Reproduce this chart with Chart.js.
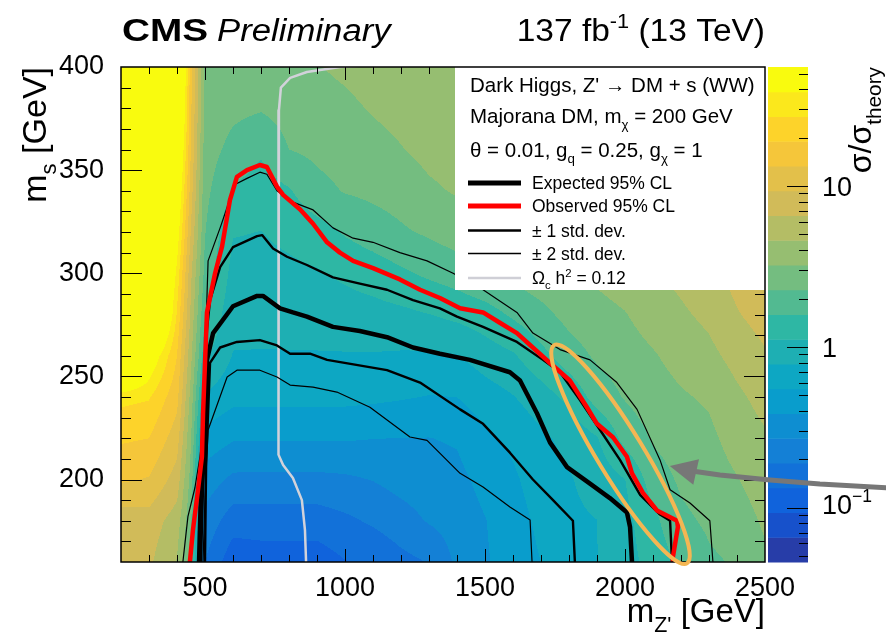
<!DOCTYPE html>
<html>
<head>
<meta charset="utf-8">
<script src="https://cdn.jsdelivr.net/npm/chart.js@4.4.1/dist/chart.umd.min.js"></script>
<style>
  html, body { margin: 0; padding: 0; background: #fff; }
  #wrap { width: 886px; height: 634px; }
</style>
</head>
<body>
<div id="wrap"><canvas id="limits" width="886" height="634"></canvas></div>
<script>
// grid of the observed limit, sigma / sigma_theory
const gridMZ = [200, 300, 400, 450, 500, 600, 700, 800, 900, 1000, 1100, 1200, 1300,
                1400, 1500, 1600, 1700, 1800, 1900, 2000, 2100, 2200, 2300, 2400, 2500];
const gridMS = [400, 380, 360, 340, 320, 300, 280, 260, 240, 220, 200, 180, 160];
const sigmaRatio = [
  [300, 300, 200, 15, 3.0, 2.9, 2.8, 2.96, 3.18, 3.45, 3.77, 4.08, 4.2, 4.45, 5.0, 5.2, 5.6, 6.0, 6.8, 7.4, 8.0, 10, 11.5, 14, 17],
  [300, 300, 150, 14, 2.9, 2.48, 2.34, 2.6, 2.81, 3.0, 3.33, 3.6, 3.85, 4.1, 4.4, 4.6, 5.0, 5.3, 6.0, 6.6, 7.2, 8.8, 10.2, 12.5, 15],
  [300, 300, 100, 13, 2.7, 2.02, 1.68, 2.27, 2.46, 2.64, 2.88, 3.18, 3.56, 3.78, 3.9, 4.1, 4.4, 4.67, 5.3, 5.8, 6.4, 7.8, 9.08, 11, 13.5],
  [300, 300, 70, 11, 2.5, 1.55, 1.34, 1.54, 2.03, 2.32, 2.46, 2.64, 3.05, 3.34, 3.5, 3.7, 3.9, 4.1, 4.7, 5.1, 5.6, 6.9, 8.0, 9.8, 12],
  [300, 300, 50, 9, 2.3, 1.14, 1.11, 1.22, 1.37, 1.65, 1.9, 2.16, 2.39, 2.68, 3.18, 3.3, 3.4, 3.7, 4.1, 4.51, 5.0, 5.8, 6.9, 8.5, 10.5],
  [300, 300, 35, 7, 2.0, 0.99, 0.99, 1.03, 1.08, 1.19, 1.31, 1.5, 1.7, 1.9, 2.24, 2.5, 2.86, 3.24, 3.45, 3.8, 4.51, 5.05, 6.0, 7.4, 8.9],
  [300, 300, 26, 6, 1.6, 0.88, 0.875, 0.89, 0.91, 0.954, 0.985, 1.03, 1.11, 1.22, 1.36, 1.68, 2.03, 2.55, 2.9, 3.18, 3.78, 4.36, 5.0, 6.4, 7.6],
  [300, 60, 19, 5.0, 1.2, 0.77, 0.766, 0.766, 0.766, 0.766, 0.766, 0.752, 0.745, 0.77, 0.93, 1.07, 1.43, 1.92, 2.4, 2.75, 3.13, 3.67, 4.2, 5.2, 6.3],
  [30, 28, 15, 4.0, 0.75, 0.61, 0.606, 0.606, 0.606, 0.606, 0.59, 0.566, 0.541, 0.551, 0.66, 0.77, 0.95, 1.22, 1.84, 2.33, 2.74, 3.1, 3.4, 4.3, 5.2],
  [20, 19, 11, 3.3, 0.48, 0.4, 0.398, 0.398, 0.398, 0.398, 0.388, 0.384, 0.383, 0.4, 0.51, 0.59, 0.73, 0.87, 1.09, 1.78, 2.36, 2.74, 2.98, 3.74, 4.4],
  [14, 13, 8, 2.8, 0.33, 0.25, 0.248, 0.248, 0.248, 0.255, 0.274, 0.307, 0.327, 0.35, 0.43, 0.52, 0.65, 0.76, 0.9, 1.11, 1.88, 2.4, 2.7, 3.18, 3.95],
  [7.6, 8, 5.5, 2.4, 0.24, 0.157, 0.159, 0.159, 0.159, 0.177, 0.2, 0.234, 0.279, 0.315, 0.38, 0.48, 0.59, 0.73, 0.78, 1.0, 1.45, 2.1, 2.4, 2.67, 3.43],
  [6.8, 7, 4.5, 2.0, 0.19, 0.105, 0.11, 0.11, 0.11, 0.131, 0.14, 0.17, 0.193, 0.29, 0.37, 0.46, 0.55, 0.7, 0.78, 0.95, 1.3, 1.7, 2.15, 2.35, 3.0]
];

// 95% CL contours, [m_Z', m_s] in GeV
const observed = [[446,160],[457,175.5],[475,195],[489,211],[493,232],[500,256.5],[507,281],[536,300],[561,313],
  [589,335.5],[614,346.7],[650,350],[696,352.5],[721,351.5],[757,342],[779,338],[839,331],[886,324],[936,315],
  [982,310],[1029,306],[1100,302.5],[1196,297],[1268,292],[1339,288],[1411,283],[1493,281],[1553,276],[1614,271],
  [1732,256.5],[1803,248],[1864,235],[1900,227],[1957,220.5],[2007,211],[2025,203],[2064,193.5],[2114,185],
  [2186,180],[2189,177],[2171,162.4],[2171,160]];
const expected = [[482,160],[489,195],[500,224],[507,248],[507,258],[529,271],[600,284],[686,289],[707,289],
  [768,283],[814,281],[864,279],[957,274],[1053,272],[1150,269],[1243,264],[1339,261],[1446,258],[1589,252],
  [1625,248],[1686,232],[1732,218],[1793,206],[1875,198],[1946,191],[2007,184],[2018,177],[2025,160]];
const expPlus1 = [[475,160],[482,195],[493,232],[507,272.5],[518,287],[554,303],[600,312.7],[686,318],[704,318.5],
  [743,312],[793,308],[864,304],[957,298],[1053,295],[1150,292],[1243,287],[1339,283],[1400,279],[1493,274],
  [1614,266.7],[1707,258],[1768,252],[1839,238.5],[1911,224],[1982,209.5],[2054,192.5],[2125,183],[2161,180],[2168,160]];
const expMinus1 = [[500,160],[504,208],[518,256.5],[554,264],[614,266.7],[696,267.6],[757,265],[804,261],[875,261],
  [936,258],[1150,253],[1268,247],[1411,234],[1493,227],[1589,213],[1671,200],[1743,190],[1814,180],[1821,160]];
const expPlus2 = [[421,160],[439,182],[464,196],[482,211],[500,232],[500,258],[511,306],[554,322],[607,343],
  [650,346],[696,349],[721,348],[757,340],[814,334.5],[886,330.7],[957,322],[1029,317],[1100,315],[1196,310],
  [1293,306],[1386,300],[1493,292],[1614,281],[1671,271],[1768,263],[1875,258],[1971,247],[2043,234],
  [2125,209.5],[2161,195],[2232,188.6],[2303,180],[2314,160]];
const expMinus2 = [[493,160],[500,191.5],[511,224],[579,249.7],[614,253],[696,253],[757,249.7],[804,245.8],
  [886,244.8],[971,242.4],[1089,235],[1232,220.6],[1293,219],[1411,203],[1493,196.4],[1589,186.7],[1661,180.4],[1668,160]];
const relicLine = [[1100,401],[982,400],[864,397.6],[804,394.7],[771,390],[764,379],[764,287],[761,212],
  [779,207],[814,200.7],[846,190],[857,175.5],[861,160]];

// annotation: highlight ellipse (two tips) and arrow, in GeV
const highlightTips = [[1743,266],[2225,158.5]];
const arrowPath = [[2946,195.9],[2696,197.8],[2518,199.8],[2339,202.2],[2239,204.1]];
const arrowTip = [2160,206.5];

const xMajorTicks = [500, 1000, 1500, 2000, 2500];
const yMajorTicks = [200, 250, 300, 350, 400];
const zLabelValues = [0.1, 1, 10];
const zMin = 0.046, zMax = 55, nBands = 20;

const FONT = "'Liberation Sans', Arial, Helvetica, sans-serif";
Chart.defaults.font.family = FONT;
Chart.defaults.color = '#000';

// ROOT kBird palette
const birdStops = [0, 0.125, 0.25, 0.375, 0.5, 0.625, 0.75, 0.875, 1];
const birdR = [0.2082, 0.0592, 0.0780, 0.0232, 0.1802, 0.5301, 0.8186, 0.9956, 0.9764];
const birdG = [0.1664, 0.3599, 0.5041, 0.6419, 0.7178, 0.7492, 0.7328, 0.7862, 0.9832];
const birdB = [0.5293, 0.8684, 0.8385, 0.7914, 0.6425, 0.4662, 0.3499, 0.1968, 0.0539];
function birdColor(t) {
  let k = 0;
  while (k < birdStops.length - 2 && t > birdStops[k + 1]) k++;
  const f = (t - birdStops[k]) / (birdStops[k + 1] - birdStops[k]);
  const mix = a => Math.round(255 * (a[k] + (a[k + 1] - a[k]) * f));
  return [mix(birdR), mix(birdG), mix(birdB)];
}
const bandRGB = [];
for (let i = 0; i < nBands; i++) bandRGB.push(birdColor(Math.floor((i + 0.99) * 255 / nBands) / 254));

function drawRich(ctx, parts, x, y, opt) {
  const size = opt.size, sx = opt.sx || 1, style = opt.style || '';
  const fontFor = p => `${style} ${p.sub || p.sup ? size * 0.65 : size}px ${FONT}`;
  let total = 0;
  parts.forEach(p => { ctx.font = fontFor(p); p.w = ctx.measureText(p.t).width; total += p.w; });
  const start = opt.align === 'right' ? x - total * sx : x;
  ctx.save();
  ctx.translate(start, y);
  ctx.scale(sx, 1);
  ctx.fillStyle = opt.color || '#000';
  ctx.textBaseline = 'alphabetic';
  ctx.textAlign = 'left';
  let cx = 0;
  parts.forEach(p => {
    ctx.font = fontFor(p);
    const dy = p.sub ? size * 0.3 : p.sup ? -size * 0.42 : 0;
    ctx.fillText(p.t, cx, dy);
    cx += p.w;
  });
  ctx.restore();
}

const heatmapPlugin = {
  id: 'heatmap',
  beforeDraw(chart) {
    const ctx = chart.ctx;
    ctx.save();
    ctx.fillStyle = '#fff';
    ctx.fillRect(0, 0, chart.width, chart.height);
    ctx.restore();
  },
  beforeDatasetsDraw(chart) {
    const { ctx, chartArea: area, scales } = chart;
    const x0 = Math.round(area.left), y0 = Math.round(area.top);
    const w = Math.round(area.right) - x0, h = Math.round(area.bottom) - y0;
    const img = ctx.createImageData(w, h);
    const logGrid = sigmaRatio.map(row => row.map(v => Math.log10(v)));
    const clamp = v => Math.min(1, Math.max(0, v));
    const colIdx = [], colFrac = [];
    for (let i = 0; i < w; i++) {
      const v = scales.x.getValueForPixel(x0 + i + 0.5);
      let k = 0;
      while (k < gridMZ.length - 2 && v > gridMZ[k + 1]) k++;
      colIdx.push(k);
      colFrac.push(clamp((v - gridMZ[k]) / (gridMZ[k + 1] - gridMZ[k])));
    }
    const lo = Math.log10(zMin), bw = (Math.log10(zMax) - lo) / nBands;
    for (let j = 0; j < h; j++) {
      const v = scales.y.getValueForPixel(y0 + j + 0.5);
      let r = 0;
      while (r < gridMS.length - 2 && v < gridMS[r + 1]) r++;
      const fy = clamp((gridMS[r] - v) / (gridMS[r] - gridMS[r + 1]));
      const upper = logGrid[r], lower = logGrid[r + 1];
      for (let i = 0; i < w; i++) {
        const k = colIdx[i], fx = colFrac[i];
        const a = upper[k] + (upper[k + 1] - upper[k]) * fx;
        const b = lower[k] + (lower[k + 1] - lower[k]) * fx;
        let band = Math.floor((a + (b - a) * fy - lo) / bw);
        band = Math.max(0, Math.min(nBands - 1, band));
        const c = bandRGB[band], p = (j * w + i) * 4;
        img.data[p] = c[0]; img.data[p + 1] = c[1]; img.data[p + 2] = c[2]; img.data[p + 3] = 255;
      }
    }
    ctx.putImageData(img, x0, y0);
  },
  afterDatasetsDraw(chart) {
    const { ctx, chartArea: area, scales } = chart;
    const xs = scales.x, ys = scales.y, zs = scales.z;
    const { left, right, top, bottom } = area;
    ctx.save();

    // inside tick marks on all four sides
    ctx.strokeStyle = '#000';
    ctx.lineWidth = 1;
    ctx.beginPath();
    for (let v = 300; v < 2500; v += 100) {
      const px = Math.round(xs.getPixelForValue(v)) + 0.5;
      const len = v % 500 === 0 ? 13 : 7;
      ctx.moveTo(px, bottom); ctx.lineTo(px, bottom - len);
      ctx.moveTo(px, top); ctx.lineTo(px, top + len);
    }
    for (let v = 170; v < 400; v += 10) {
      const py = Math.round(ys.getPixelForValue(v)) + 0.5;
      const len = v % 50 === 0 ? 21 : 10;
      ctx.moveTo(left, py); ctx.lineTo(left + len, py);
      ctx.moveTo(right, py); ctx.lineTo(right - len, py);
    }
    ctx.stroke();

    // legend box
    const bx = 455, by = top, bwid = right - 455, bh = 223;
    ctx.fillStyle = '#fff';
    ctx.fillRect(bx, by, bwid, bh);
    drawRich(ctx, [{ t: "Dark Higgs, Z' \u2192 DM + s (WW)" }], 470, 92, { size: 20.5 });
    drawRich(ctx, [{ t: 'Majorana DM, m' }, { t: '\u03c7', sub: 1 }, { t: ' = 200 GeV' }], 470, 123, { size: 20.5 });
    drawRich(ctx, [{ t: '\u03b8 = 0.01, g' }, { t: 'q', sub: 1 }, { t: ' = 0.25, g' }, { t: '\u03c7', sub: 1 }, { t: ' = 1' }], 470, 157, { size: 20.5 });
    const entries = [
      { parts: [{ t: 'Expected 95% CL' }], color: '#000', width: 5, y: 183 },
      { parts: [{ t: 'Observed 95% CL' }], color: '#ff0000', width: 5, y: 206 },
      { parts: [{ t: '\u00b1 1 std. dev.' }], color: '#000', width: 2.6, y: 230.5 },
      { parts: [{ t: '\u00b1 2 std. dev.' }], color: '#000', width: 1.4, y: 253.5 },
      { parts: [{ t: '\u03a9' }, { t: 'c', sub: 1 }, { t: ' h' }, { t: '2', sup: 1 }, { t: ' = 0.12' }], color: '#cfcfd6', width: 2.4, y: 278 }
    ];
    entries.forEach(e => {
      ctx.strokeStyle = e.color;
      ctx.lineWidth = e.width;
      ctx.beginPath();
      ctx.moveTo(468, e.y); ctx.lineTo(521, e.y);
      ctx.stroke();
      drawRich(ctx, e.parts, 532, e.y + 6, { size: 17.5 });
    });

    // frame
    ctx.strokeStyle = '#000';
    ctx.lineWidth = 1.5;
    ctx.strokeRect(left, top, right - left, bottom - top);

    // colour bar through the z scale
    const lo = Math.log10(zMin), bw = (Math.log10(zMax) - lo) / nBands;
    const cbL = right + 3, cbW = 40;
    for (let i = 0; i < nBands; i++) {
      const y1 = zs.getPixelForValue(Math.pow(10, lo + i * bw));
      const y2 = zs.getPixelForValue(Math.pow(10, lo + (i + 1) * bw));
      const c = bandRGB[i];
      ctx.fillStyle = `rgb(${c[0]},${c[1]},${c[2]})`;
      ctx.fillRect(cbL, y2, cbW, y1 - y2 + 0.5);
    }
    ctx.strokeStyle = '#000';
    ctx.lineWidth = 1;
    ctx.beginPath();
    for (let e = -2; e <= 1; e++) {
      for (let k = 1; k <= 9; k++) {
        const v = k * Math.pow(10, e);
        if (v < zMin || v > zMax) continue;
        const py = Math.round(zs.getPixelForValue(v)) + 0.5;
        const len = k === 1 ? 21 : 9;
        ctx.moveTo(cbL + cbW, py); ctx.lineTo(cbL + cbW - len, py);
      }
    }
    ctx.stroke();
    zLabelValues.forEach(v => {
      const py = zs.getPixelForValue(v) + 10;
      if (v < 1) {
        drawRich(ctx, [{ t: '10' }, { t: '\u22121', sup: 1 }], 822, py - 4, { size: 27 });
      } else {
        drawRich(ctx, [{ t: String(v) }], 822, py, { size: 27 });
      }
    });

    // highlight ellipse
    const p1 = [xs.getPixelForValue(highlightTips[0][0]), ys.getPixelForValue(highlightTips[0][1])];
    const p2 = [xs.getPixelForValue(highlightTips[1][0]), ys.getPixelForValue(highlightTips[1][1])];
    ctx.strokeStyle = '#f4b653';
    ctx.lineWidth = 4;
    ctx.beginPath();
    ctx.ellipse((p1[0] + p2[0]) / 2, (p1[1] + p2[1]) / 2,
      Math.hypot(p2[0] - p1[0], p2[1] - p1[1]) / 2 - 2, 23,
      Math.atan2(p2[1] - p1[1], p2[0] - p1[0]), 0, Math.PI * 2);
    ctx.stroke();

    // arrow: polyline through the path, head at the tip
    const ap = arrowPath.map(([a, b]) => [xs.getPixelForValue(a), ys.getPixelForValue(b)]);
    const tip = [xs.getPixelForValue(arrowTip[0]), ys.getPixelForValue(arrowTip[1])];
    ctx.strokeStyle = '#777';
    ctx.fillStyle = '#777';
    ctx.lineWidth = 5;
    ctx.lineJoin = 'round';
    ctx.beginPath();
    ap.forEach(([px, py], i) => (i ? ctx.lineTo(px, py) : ctx.moveTo(px, py)));
    ctx.stroke();
    const last = ap[ap.length - 1];
    const ang = Math.atan2(tip[1] - last[1], tip[0] - last[0]);
    ctx.beginPath();
    ctx.moveTo(tip[0], tip[1]);
    ctx.lineTo(tip[0] - 27 * Math.cos(ang) + 13 * Math.sin(ang), tip[1] - 27 * Math.sin(ang) - 13 * Math.cos(ang));
    ctx.lineTo(tip[0] - 27 * Math.cos(ang) - 13 * Math.sin(ang), tip[1] - 27 * Math.sin(ang) + 13 * Math.cos(ang));
    ctx.closePath();
    ctx.fill();

    // titles
    drawRich(ctx, [{ t: 'CMS' }], 122, 41, { size: 31, style: 'bold', sx: 1.25 });
    drawRich(ctx, [{ t: 'Preliminary' }], 217, 41, { size: 31, style: 'italic', sx: 1.12 });
    drawRich(ctx, [{ t: '137 fb' }, { t: '-1', sup: 1 }, { t: ' (13 TeV)' }], right, 41, { size: 31, sx: 1.08, align: 'right' });
    drawRich(ctx, [{ t: 'm' }, { t: "Z'", sub: 1 }, { t: ' [GeV]' }], right, 622, { size: 33, align: 'right' });
    ctx.save();
    ctx.translate(46, top);
    ctx.rotate(-Math.PI / 2);
    drawRich(ctx, [{ t: 'm' }, { t: 's', sub: 1 }, { t: ' [GeV]' }], 0, 0, { size: 34, align: 'right' });
    ctx.restore();
    ctx.save();
    ctx.translate(871, top);
    ctx.rotate(-Math.PI / 2);
    drawRich(ctx, [{ t: '\u03c3/\u03c3' }, { t: 'theory', sub: 1 }], 0, 0, { size: 32, align: 'right' });
    ctx.restore();

    ctx.restore();
  }
};

const toXY = pts => pts.map(([x, y]) => ({ x, y }));
const contour = (label, pts, color, width) => ({
  label, data: toXY(pts), showLine: true, borderColor: color, borderWidth: width,
  pointRadius: 0, fill: false, tension: 0, borderJoinStyle: 'round', borderCapStyle: 'round'
});

new Chart(document.getElementById('limits'), {
  type: 'scatter',
  data: {
    datasets: [
      contour('Observed 95% CL', observed, '#ff0000', 4.5),
      contour('Expected 95% CL', expected, '#000', 4.5),
      contour('+1 std. dev.', expPlus1, '#000', 2.4),
      contour('-1 std. dev.', expMinus1, '#000', 2.4),
      contour('+2 std. dev.', expPlus2, '#000', 1.2),
      contour('-2 std. dev.', expMinus2, '#000', 1.2),
      contour('Relic density', relicLine, '#d2d2da', 2.5)
    ]
  },
  options: {
    responsive: false,
    animation: false,
    devicePixelRatio: 1,
    layout: { padding: { top: 67, left: 0, right: 0, bottom: 0 } },
    plugins: { legend: { display: false }, tooltip: { enabled: false } },
    scales: {
      x: {
        type: 'linear', min: 200, max: 2500,
        grid: { display: false }, border: { display: false },
        ticks: { font: { size: 27 }, color: '#000', padding: 2, maxRotation: 0, autoSkip: false, callback: v => String(v) },
        afterBuildTicks: s => { s.ticks = xMajorTicks.map(v => ({ value: v })); },
        afterFit: s => { s.height = 72; }
      },
      y: {
        type: 'linear', min: 160, max: 400,
        grid: { display: false }, border: { display: false },
        ticks: { font: { size: 27 }, color: '#000', padding: 9, autoSkip: false, callback: v => String(v) },
        afterBuildTicks: s => { s.ticks = yMajorTicks.map(v => ({ value: v })); },
        afterFit: s => { s.width = 121; }
      },
      z: {
        type: 'logarithmic', position: 'right', min: zMin, max: zMax,
        grid: { display: false }, border: { display: false },
        ticks: { display: false },
        afterFit: s => { s.width = 121; }
      }
    }
  },
  plugins: [heatmapPlugin]
});
</script>
</body>
</html>
